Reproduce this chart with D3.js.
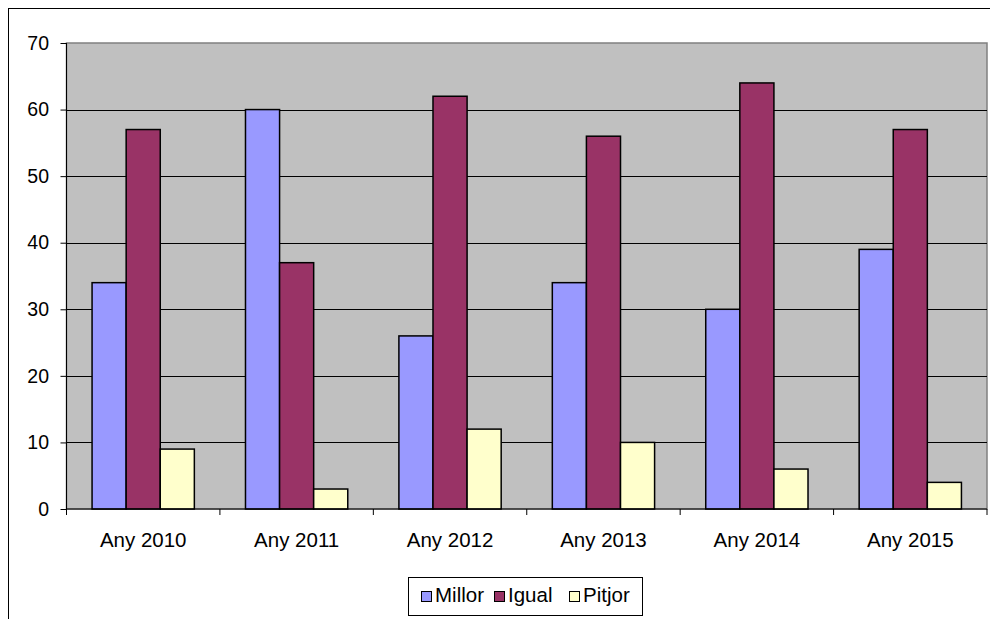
<!DOCTYPE html>
<html>
<head>
<meta charset="utf-8">
<script src="https://cdn.jsdelivr.net/npm/d3@7"></script>
<style>
  html, body { margin: 0; padding: 0; background: #fff; }
  svg { display: block; font-family: Arial, "Liberation Sans", sans-serif; }
</style>
</head>
<body>
<svg id="chart" width="990" height="619"></svg>
<script>
// Survey results per year
const categories = ["Any 2010", "Any 2011", "Any 2012", "Any 2013", "Any 2014", "Any 2015"];
const seriesNames = ["Millor", "Igual", "Pitjor"];
const millor = [34, 60, 26, 34, 30, 39];
const igual  = [57, 37, 62, 56, 64, 57];
const pitjor = [9, 3, 12, 10, 6, 4];
const yTicks = [0, 10, 20, 30, 40, 50, 60, 70];
const colors = ["#9999FF", "#993366", "#FFFFCC"];

const seriesValues = [millor, igual, pitjor];
const FONT = "Arial, 'Liberation Sans', sans-serif";

const svg = d3.select("#chart");
const plot = { left: 66.5, top: 43, right: 987, bottom: 509 };

// outer chart frame
svg.append("rect")
  .attr("x", 8.5).attr("y", 8.5)
  .attr("width", 1000).attr("height", 700)
  .attr("fill", "#fff").attr("stroke", "#000").attr("stroke-width", 1);

const x0 = d3.scaleBand().domain(categories).range([plot.left, plot.right]).paddingInner(0).paddingOuter(0);
// each group: 3 bars plus a gap of 1.5 bar widths, split evenly on both sides
const x1 = d3.scaleBand().domain(seriesNames)
  .range([x0.bandwidth() * 0.75 / 4.5, x0.bandwidth() * 3.75 / 4.5])
  .paddingInner(0).paddingOuter(0);
const y = d3.scaleLinear().domain([0, 70]).range([plot.bottom, plot.top]);

// plot background
svg.append("rect")
  .attr("x", plot.left).attr("y", plot.top)
  .attr("width", plot.right - plot.left).attr("height", plot.bottom - plot.top)
  .attr("fill", "#C0C0C0").attr("stroke", "#808080").attr("stroke-width", 1.5);

// gridlines
svg.append("g").selectAll("line")
  .data(yTicks.filter(d => d > 0 && d < 70))
  .join("line")
  .attr("x1", plot.left).attr("x2", plot.right)
  .attr("y1", d => Math.round(y(d)) + 0.5).attr("y2", d => Math.round(y(d)) + 0.5)
  .attr("stroke", "#000").attr("stroke-width", 1);

// bars
const groups = svg.append("g").selectAll("g")
  .data(categories)
  .join("g")
  .attr("transform", d => `translate(${x0(d)},0)`);

groups.selectAll("rect")
  .data((c, i) => seriesNames.map((s, k) => ({ s, v: seriesValues[k][i], k })))
  .join("rect")
  .attr("x", d => x1(d.s))
  .attr("y", d => y(d.v))
  .attr("width", x1.bandwidth())
  .attr("height", d => y(0) - y(d.v))
  .attr("fill", d => colors[d.k])
  .attr("stroke", "#000").attr("stroke-width", 1.5);

// y axis
const yAxis = d3.axisLeft(y).tickValues(yTicks).tickSize(6).tickPadding(11.5);
const yg = svg.append("g").attr("transform", `translate(${plot.left},0)`).call(yAxis);
yg.select(".domain").attr("stroke", "#000").attr("d", `M0,${plot.top}V${plot.bottom}`);
yg.selectAll(".tick line").attr("stroke", "#000");
yg.selectAll(".tick text").attr("font-size", 19.5).attr("fill", "#000").attr("font-family", FONT);

// x axis
const xAxis = d3.axisBottom(x0).tickSize(0).tickPadding(23.5);
const xg = svg.append("g").attr("transform", `translate(0,${plot.bottom})`).call(xAxis);
xg.select(".domain").attr("stroke", "#000").attr("d", `M${plot.left},0H${plot.right}`);
xg.selectAll(".tick text").attr("font-size", 20.5).attr("fill", "#000").attr("font-family", FONT);
// category separator ticks
svg.append("g").selectAll("line")
  .data(d3.range(categories.length + 1))
  .join("line")
  .attr("x1", i => plot.left + i * x0.bandwidth()).attr("x2", i => plot.left + i * x0.bandwidth())
  .attr("y1", plot.bottom).attr("y2", plot.bottom + 6)
  .attr("stroke", "#000").attr("stroke-width", 1);

// legend
const legend = svg.append("g");
legend.append("rect")
  .attr("x", 408.5).attr("y", 577.5).attr("width", 234).attr("height", 38)
  .attr("fill", "#fff").attr("stroke", "#000").attr("stroke-width", 1);
const legendX = [421, 494, 569];
const items = legend.selectAll("g.item")
  .data(seriesNames)
  .join("g").attr("class", "item")
  .attr("transform", (d, i) => `translate(${legendX[i]},602)`);
items.append("rect")
  .attr("x", 0.5).attr("y", -10.5).attr("width", 10).attr("height", 10)
  .attr("fill", (d, i) => colors[i]).attr("stroke", "#000").attr("stroke-width", 1);
items.append("text")
  .attr("x", 14).attr("y", 0)
  .attr("font-size", 20.5).attr("fill", "#000").attr("font-family", FONT)
  .text(d => d);
</script>
</body>
</html>
